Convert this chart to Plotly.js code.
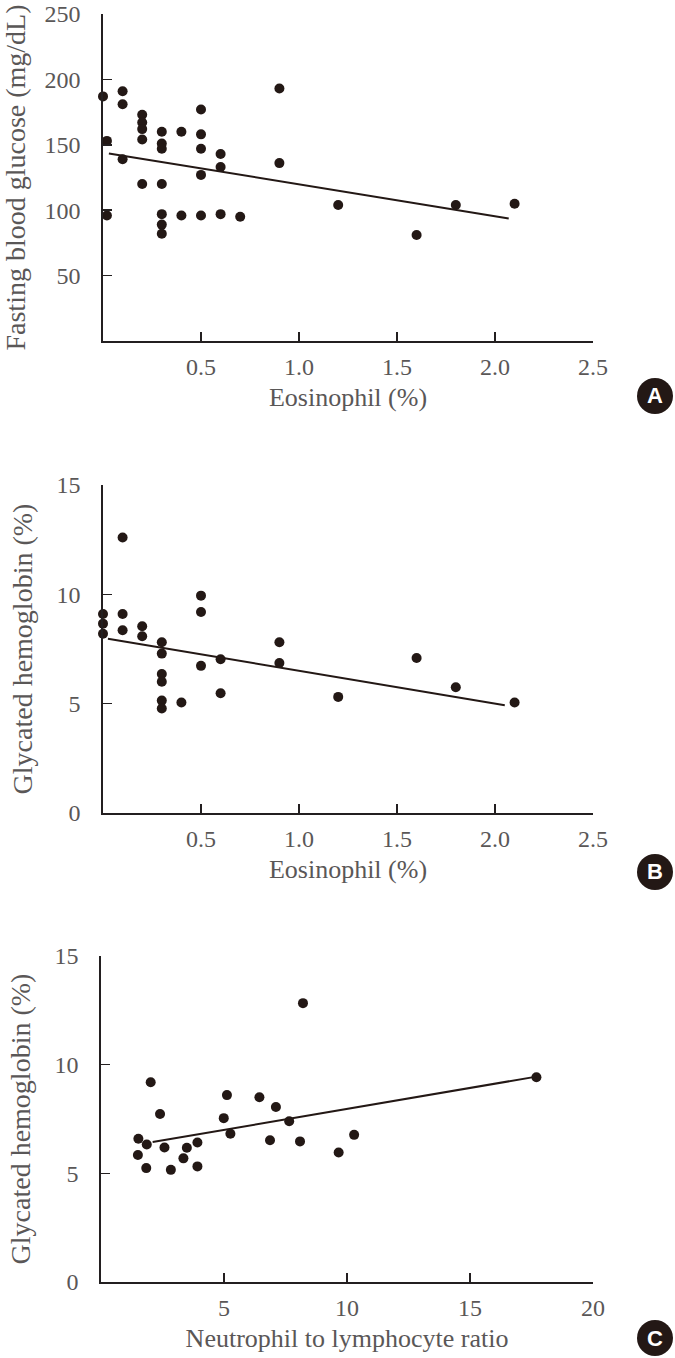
<!DOCTYPE html>
<html>
<head>
<meta charset="utf-8">
<script src="https://cdn.plot.ly/plotly-3.0.1.min.js"></script>
<style>html,body{margin:0;padding:0;background:#fff;}#chart{width:675px;height:1358px;}</style>
</head>
<body>
<div id="chart"></div>
<script>
// Panel A: eosinophil (%) vs fasting blood glucose (mg/dL)
var eosA = [0, 0.02, 0.02, 0.1, 0.1, 0.1, 0.2, 0.2, 0.2, 0.2, 0.2, 0.3, 0.3, 0.3, 0.3, 0.3, 0.3, 0.3, 0.4, 0.4, 0.5, 0.5, 0.5, 0.5, 0.5, 0.6, 0.6, 0.6, 0.7, 0.9, 0.9, 1.2, 1.6, 1.8, 2.1];
var fbgA = [187, 153, 96, 191, 181, 139, 173, 167, 162, 154, 120, 160, 151, 147, 120, 97, 89, 82, 160, 96, 177, 158, 147, 127, 96, 143, 133, 97, 95, 193, 136, 104, 81, 104, 105];
var fitAx = [0.03, 2.07];
var fitAy = [143.4, 93.7];

// Panel B: eosinophil (%) vs glycated hemoglobin (%)
var eosB = [0, 0, 0, 0.1, 0.1, 0.1, 0.2, 0.2, 0.3, 0.3, 0.3, 0.3, 0.3, 0.3, 0.4, 0.5, 0.5, 0.5, 0.6, 0.6, 0.9, 0.9, 1.2, 1.6, 1.8, 2.1];
var hbB = [9.1, 8.66, 8.2, 12.6, 9.1, 8.36, 8.54, 8.08, 7.81, 7.29, 6.36, 6.0, 5.14, 4.78, 5.05, 9.94, 9.19, 6.73, 7.03, 5.48, 7.81, 6.86, 5.31, 7.09, 5.75, 5.05];
var fitBx = [0.025, 2.05];
var fitBy = [7.97, 4.93];

// Panel C: neutrophil to lymphocyte ratio vs glycated hemoglobin (%)
var nlrC = [1.52, 1.5, 1.86, 1.84, 2.02, 2.4, 2.58, 2.84, 3.35, 3.49, 3.92, 3.92, 4.99, 5.12, 5.26, 6.44, 6.87, 7.11, 7.65, 8.09, 8.21, 9.66, 10.29, 17.7];
var hbC = [6.59, 5.84, 6.33, 5.24, 9.19, 7.73, 6.19, 5.16, 5.69, 6.18, 6.42, 5.32, 7.54, 8.6, 6.82, 8.5, 6.52, 8.05, 7.4, 6.47, 12.83, 5.96, 6.77, 9.42];
var fitCx = [2.1, 17.7];
var fitCy = [6.44, 9.45];

// Tick labels
var eosTicks = [0.5, 1.0, 1.5, 2.0, 2.5];
var eosTickText = ['0.5', '1.0', '1.5', '2.0', '2.5'];
var fbgTicks = [50, 100, 150, 200, 250];
var hbTicks = [0, 5, 10, 15];
var nlrTicks = [5, 10, 15, 20];
var panelLabels = ['A', 'B', 'C'];

var ink = '#231815';
var axisInk = '#231f20';
var textGray = '#5a5757';

function pts(x, y, xa, ya) {
  return {x: x, y: y, xaxis: xa, yaxis: ya, type: 'scatter', mode: 'markers', cliponaxis: false,
          marker: {color: ink, size: 10}, hoverinfo: 'x+y'};
}
function fit(x, y, xa, ya) {
  return {x: x, y: y, xaxis: xa, yaxis: ya, type: 'scatter', mode: 'lines', cliponaxis: false,
          line: {color: ink, width: 2}, hoverinfo: 'skip'};
}

var data = [
  pts(eosA, fbgA, 'x', 'y'), fit(fitAx, fitAy, 'x', 'y'),
  pts(eosB, hbB, 'x2', 'y2'), fit(fitBx, fitBy, 'x2', 'y2'),
  pts(nlrC, hbC, 'x3', 'y3'), fit(fitCx, fitCy, 'x3', 'y3')
];

var tickFont = {family: 'Liberation Serif, Times New Roman, serif', size: 24, color: textGray};
var titleFontX = {family: 'Liberation Serif, Times New Roman, serif', size: 26, color: textGray};
var titleFontY = {family: 'Liberation Serif, Times New Roman, serif', size: 28, color: textGray};

function xAxis(domain, range, tv, tt, title, anchor) {
  var a = {domain: domain, range: range, anchor: anchor, showline: true, linecolor: axisInk, linewidth: 1.6,
    ticks: 'inside', ticklen: 9, tickwidth: 1.6, tickcolor: axisInk, showgrid: false, zeroline: false,
    tickvals: tv, tickfont: tickFont, ticklabelstandoff: 4, ticklabeloverflow: 'allow', fixedrange: true,
    title: {text: title, font: titleFontX, standoff: 8}};
  if (tt) a.ticktext = tt;
  return a;
}
function yAxis(domain, range, tv, title, anchor) {
  return {domain: domain, range: range, anchor: anchor, showline: true, linecolor: axisInk, linewidth: 1.6,
    ticks: 'inside', ticklen: 9, tickwidth: 1.6, tickcolor: axisInk, showgrid: false, zeroline: false,
    tickvals: tv, tickfont: tickFont, ticklabelstandoff: 16, ticklabeloverflow: 'allow', fixedrange: true,
    title: {text: title, font: titleFontY, standoff: 16}};
}

var xd = [103 / 675, 593 / 675];
var layout = {
  width: 675, height: 1358,
  margin: {l: 0, r: 0, t: 0, b: 0},
  paper_bgcolor: '#ffffff', plot_bgcolor: '#ffffff',
  showlegend: false,
  xaxis: xAxis(xd, [0, 2.5], eosTicks, eosTickText, 'Eosinophil (%)', 'y'),
  yaxis: yAxis([1017 / 1358, 1344 / 1358], [0, 250.01], fbgTicks, 'Fasting blood glucose (mg/dL)', 'x'),
  xaxis2: xAxis(xd, [0, 2.5], eosTicks, eosTickText, 'Eosinophil (%)', 'y2'),
  yaxis2: yAxis([545 / 1358, 873 / 1358], [0, 15], hbTicks, 'Glycated hemoglobin (%)', 'x2'),
  xaxis3: xAxis([101 / 675, 593 / 675], [0, 20], nlrTicks, null, 'Neutrophil to lymphocyte ratio', 'y3'),
  yaxis3: yAxis([76 / 1358, 402 / 1358], [0, 15], hbTicks, 'Glycated hemoglobin (%)', 'x3'),
  shapes: [],
  annotations: []
};

var badgeY = [396, 872, 1338];
for (var i = 0; i < panelLabels.length; i++) {
  var py = (1358 - badgeY[i]) / 1358;
  layout.shapes.push({type: 'circle', xref: 'paper', yref: 'paper', xsizemode: 'pixel', ysizemode: 'pixel',
    xanchor: 655 / 675, yanchor: py, x0: -18, x1: 18, y0: -18, y1: 18,
    fillcolor: ink, line: {width: 0}});
  layout.annotations.push({text: '<b>' + panelLabels[i] + '</b>', xref: 'paper', yref: 'paper',
    x: 655 / 675, y: py, xanchor: 'center', yanchor: 'middle', showarrow: false,
    font: {family: 'Liberation Sans, Arial, sans-serif', size: 22, color: '#ffffff'}});
}

Plotly.newPlot('chart', data, layout, {displayModeBar: false, staticPlot: true});
</script>
</body>
</html>
